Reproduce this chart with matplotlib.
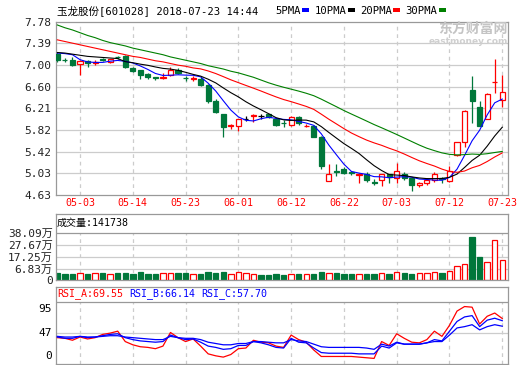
import numpy as np
import pandas as pd
import matplotlib
matplotlib.use("Agg")
import matplotlib.pyplot as plt
from matplotlib.patches import Rectangle
from matplotlib.transforms import offset_copy

plt.rcParams['font.family'] = ['DejaVu Sans Mono', 'Noto Sans CJK SC']

# *********************
# DATA
# *********************
dates = ['04-26', '04-27', '05-02', '05-03', '05-04', '05-07', '05-08', '05-09', '05-10', '05-11',
         '05-14', '05-15', '05-16', '05-17', '05-18', '05-21', '05-22', '05-23', '05-24', '05-25',
         '05-28', '05-29', '05-30', '05-31', '06-01', '06-04', '06-05', '06-06', '06-07', '06-08',
         '06-11', '06-12', '06-13', '06-14', '06-15', '06-19', '06-20', '06-21', '06-22', '06-25',
         '06-26', '06-27', '06-28', '06-29', '07-02', '07-03', '07-04', '07-05', '07-06', '07-09',
         '07-10', '07-11', '07-12', '07-13', '07-16', '07-17', '07-18', '07-19', '07-20', '07-23']
tick_dates = ['05-03', '05-14', '05-23', '06-01', '06-12', '06-22', '07-03', '07-12', '07-23']

opens = [7.20, 7.09, 7.08, 7.02, 7.06, 7.03, 7.11, 7.05, 7.14, 7.16,
         6.94, 6.90, 6.83, 6.775, 6.76, 6.81, 6.91, 6.76, 6.74, 6.73,
         6.63, 6.33, 6.10, 5.88, 5.88, 6.02, 6.06, 6.07, 6.10, 6.02,
         5.94, 5.91, 6.05, 5.88, 5.88, 5.69, 4.89, 5.06, 5.11, 5.04,
         4.99, 5.01, 4.86, 4.90, 5.01, 4.93, 5.02, 4.93, 4.81, 4.84,
         4.91, 4.93, 4.88, 5.36, 5.60, 6.53, 6.23, 6.02, 6.68, 6.36]
highs = [7.23, 7.12, 7.14, 7.08, 7.09, 7.08, 7.12, 7.11, 7.16, 7.17,
         6.95, 6.91, 6.85, 6.78, 6.84, 6.95, 6.94, 6.79, 6.79, 6.77,
         6.64, 6.37, 6.10, 5.92, 6.02, 6.07, 6.10, 6.10, 6.11, 6.03,
         5.99, 6.07, 6.06, 5.92, 5.90, 5.70, 5.19, 5.19, 5.13, 5.07,
         5.03, 5.05, 4.92, 5.02, 5.02, 5.22, 5.04, 4.94, 4.87, 4.94,
         5.04, 4.96, 5.15, 5.60, 6.17, 6.79, 6.34, 6.48, 7.10, 6.81]
lows = [7.05, 7.04, 6.97, 6.81, 6.96, 6.99, 7.07, 7.03, 7.10, 6.94,
        6.86, 6.74, 6.73, 6.72, 6.73, 6.80, 6.83, 6.70, 6.70, 6.62,
        6.31, 6.12, 5.69, 5.83, 5.80, 5.97, 5.96, 6.02, 6.03, 5.88,
        5.87, 5.88, 5.91, 5.86, 5.68, 5.11, 4.88, 4.98, 5.01, 4.99,
        4.84, 4.86, 4.81, 4.80, 4.85, 4.85, 4.90, 4.71, 4.77, 4.82,
        4.86, 4.84, 4.87, 5.34, 5.51, 5.94, 5.88, 6.01, 6.48, 6.23]
closes = [7.08, 7.08, 6.99, 7.06, 7.03, 7.04, 7.08, 7.10, 7.13, 6.95,
          6.89, 6.81, 6.78, 6.765, 6.77, 6.91, 6.85, 6.75, 6.75, 6.63,
          6.33, 6.14, 5.87, 5.90, 6.01, 6.02, 6.08, 6.07, 6.04, 5.90,
          5.93, 6.04, 5.93, 5.89, 5.69, 5.16, 5.02, 5.05, 5.03, 5.03,
          5.01, 4.90, 4.85, 5.01, 4.95, 5.07, 4.93, 4.81, 4.84, 4.91,
          5.01, 4.92, 5.07, 5.59, 6.16, 6.34, 5.88, 6.46, 6.69, 6.50]

# MA values before the window holds enough closes
ma5_head = [7.21, 7.20, 7.18, 7.09]
ma10_head = [7.22, 7.21, 7.19, 7.17, 7.15, 7.14, 7.13, 7.12, 7.11]
ma20_head = [7.45, 7.42, 7.39, 7.36, 7.33, 7.30, 7.27, 7.24, 7.21, 7.18,
             7.15, 7.13, 7.10, 7.07, 7.05, 7.02, 6.99, 6.97, 6.94]
ma30_head = [7.72, 7.67, 7.63, 7.58, 7.53, 7.49, 7.44, 7.40, 7.37, 7.34,
             7.30, 7.27, 7.24, 7.21, 7.18, 7.14, 7.11, 7.08, 7.05, 7.02,
             6.98, 6.95, 6.92, 6.88, 6.85, 6.81, 6.77, 6.72, 6.67]

# volume in 万
volume = [3.15, 2.0, 2.0, 2.6, 2.0, 2.6, 2.9, 1.7, 2.9, 2.9,
          2.0, 3.8, 2.0, 2.0, 2.6, 2.6, 2.9, 2.9, 1.7, 2.0,
          3.8, 2.9, 3.8, 1.7, 3.5, 2.6, 1.7, 1.1, 1.1, 2.0,
          1.1, 1.7, 2.0, 1.7, 2.0, 3.8, 3.2, 2.9, 2.0, 2.0,
          1.7, 2.0, 2.0, 2.6, 2.0, 3.5, 2.9, 2.0, 2.6, 2.6,
          3.5, 2.9, 4.7, 8.8, 10.6, 35.1, 17.1, 12.4, 32.2, 14.1738]
vol_ticks = [6.83, 17.25, 27.67, 38.09]

rsi_a = [40, 39, 36, 41, 38, 40, 45, 47, 50, 34,
         29, 26, 25, 23, 27, 48, 40, 34, 38, 27,
         15, 12, 10, 14, 23, 24, 36, 33, 32, 27,
         25, 44, 37, 33, 21, 11, 11, 11, 11, 11,
         10, 9, 8, 34, 28, 46, 39, 33, 32, 37,
         50, 42, 59, 81, 88, 87, 61, 73, 78, 69.55]
rsi_b = [41, 39, 39, 42, 40, 41, 43, 45, 46, 40,
         37, 35, 34, 33, 34, 44, 40, 37, 38, 33,
         27, 25, 22, 23, 28, 28, 34, 32, 29, 25,
         24, 39, 33, 32, 24, 17, 16, 16, 16, 16,
         15, 15, 15, 27, 24, 32, 30, 30, 30, 32,
         37, 35, 50, 65, 72, 74, 57, 67, 70, 66.14]
rsi_c = [42, 41, 41, 42, 41, 41, 42, 43, 43, 41,
         40, 39, 38, 37, 37, 42, 40, 39, 39, 37,
         33, 31, 29, 29, 31, 31, 34, 34, 33, 32,
         32, 37, 35, 34, 30, 26, 25, 25, 25, 25,
         25, 24, 22, 30, 27, 33, 30, 30, 30, 32,
         34, 34, 44, 55, 57, 60, 52, 57, 60, 57.70]

price_ticks = [4.63, 5.03, 5.42, 5.82, 6.21, 6.60, 7.00, 7.39, 7.78]
rsi_ticks = [0, 47, 95]

# *********************
# STYLE
# *********************
W, H = 520, 365
RED = '#ff0000'
GREEN = '#00773a'
FRAME = '#999999'
GRID = '#cccccc'
FS = 7.2
BW = 0.68


def px_axes(fig, l, t, r, b):
    return fig.add_axes([l / W, 1 - b / H, (r - l) / W, (b - t) / H])


def moving_avg(n, head):
    s = pd.Series(closes).rolling(n).mean().to_numpy()
    s[:n - 1] = head
    return s


def style_frame(ax):
    for sp in ax.spines.values():
        sp.set_color(FRAME)
        sp.set_linewidth(0.9)
    ax.tick_params(axis='both', length=0, labelsize=FS, colors='#222222')
    ax.set_facecolor('white')


fig = plt.figure(figsize=(W / 100, H / 100), dpi=100)
fig.patch.set_facecolor('white')

x = np.arange(len(closes))
tick_pos = [dates.index(d) for d in tick_dates]
xlim = (-0.25, 59.8)

# *********************
# PRICE PANEL
# *********************
ax1 = px_axes(fig, 55.5, 21.7, 508.3, 195)
style_frame(ax1)
ax1.set_xlim(*xlim)
ax1.set_ylim(price_ticks[0], price_ticks[-1])
ax1.set_yticks(price_ticks)
ax1.set_yticklabels([f'{v:.2f}' for v in price_ticks], fontsize=8)
ax1.tick_params(axis='y', pad=3)
ax1.set_xticks(tick_pos)
ax1.set_xticklabels(tick_dates, color=RED, fontsize=FS)
ax1.tick_params(axis='x', pad=2)
for v in price_ticks[1:-1]:
    ax1.axhline(v, color=GRID, lw=0.9, zorder=0)
for p in tick_pos:
    ax1.axvline(p, color=GRID, lw=0.9, ls=(0, (3, 3)), zorder=0)

for i in x:
    o, h, l, c = opens[i], highs[i], lows[i], closes[i]
    col = RED if c > o else (GREEN if c < o else 'black')
    ax1.vlines(i, l, h, color=col, lw=0.9, zorder=2)
    if c == o:
        ax1.hlines(c, i - BW / 2, i + BW / 2, color=col, lw=0.9, zorder=3)
    else:
        ax1.add_patch(Rectangle((i - BW / 2, min(o, c)), BW, abs(c - o),
                                facecolor='white' if c > o else col,
                                edgecolor=col, lw=0.9, zorder=3))

ma_specs = [(5, ma5_head, '#0000ff'), (10, ma10_head, 'black'),
            (20, ma20_head, RED), (30, ma30_head, '#008000')]
for n, head, col in ma_specs:
    ax1.plot(x, moving_avg(n, head), color=col, lw=0.8, zorder=4)

# title + legend
fig.text(57 / W, 1 - 10.5 / H, '玉龙股份[601028] 2018-07-23 14:44', fontsize=7.6,
         ha='left', va='center')
lx = 275
for n, _, col in ma_specs:
    label = f'{n}PMA'
    fig.text(lx / W, 1 - 10.5 / H, label, fontsize=7.6, ha='left', va='center')
    sx = lx + len(label) * 6.1 + 3
    fig.add_artist(Rectangle((sx / W, 1 - 12 / H), 7 / W, 3.5 / H,
                             facecolor=col, edgecolor='none', transform=fig.transFigure))
    lx = sx + 12

# watermark
fig.text(508 / W, 1 - 29 / H, '东方财富网', fontsize=10, color='#c4c4c4', weight='bold',
         ha='right', va='center', family=['Noto Sans CJK SC'])
fig.text(508 / W, 1 - 41 / H, 'eastmoney.com', fontsize=6.5, color='#cfcfcf', weight='bold',
         ha='right', va='center', family=['DejaVu Sans'])

# *********************
# VOLUME PANEL
# *********************
vol_floor = vol_ticks[0] - (vol_ticks[1] - vol_ticks[0])
vol_top = vol_ticks[-1] + (vol_ticks[-1] - vol_floor) * (233.3 - 214) / (280.3 - 233.3)
ax2 = px_axes(fig, 55.5, 214, 508.3, 280.3)
style_frame(ax2)
ax2.set_xlim(*xlim)
ax2.set_ylim(vol_floor, vol_top)
ax2.set_xticks([])
ax2.set_yticks([vol_floor] + vol_ticks)
ax2.set_yticklabels(['0'] + [f'{v:.2f}万' for v in vol_ticks], fontsize=8)
ax2.tick_params(axis='y', pad=2)
for v in vol_ticks[:-1]:
    ax2.axhline(v, color=GRID, lw=0.9, zorder=0)
ax2.axhline(vol_ticks[-1], color=FRAME, lw=0.9, zorder=1)
for p in tick_pos:
    ax2.vlines(p, vol_floor, vol_ticks[-1], color=GRID, lw=0.9, ls=(0, (3, 3)), zorder=0)
for i in x:
    o, c = opens[i], closes[i]
    up = c > o if c != o else c >= closes[i - 1]
    col = RED if up else GREEN
    ax2.add_patch(Rectangle((i - 0.36, vol_floor), 0.72, volume[i] - vol_floor,
                            facecolor='white' if up else col, edgecolor=col, lw=0.9, zorder=2))
ax2.text(57 / W, 1 - 223 / H, f'成交量:{int(round(volume[-1] * 10000))}', fontsize=FS,
         transform=fig.transFigure, ha='left', va='center')

# *********************
# RSI PANEL
# *********************
rsi_top = rsi_ticks[-1] + rsi_ticks[-1] * (302 - 286.7) / (363.6 - 302)
ax3 = px_axes(fig, 55.5, 286.7, 508.3, 363.6)
style_frame(ax3)
ax3.set_xlim(*xlim)
ax3.set_ylim(0, rsi_top)
ax3.set_xticks([])
ax3.set_yticks([])
ax3.axhline(rsi_ticks[1], color=GRID, lw=0.9, zorder=0)
ax3.axhline(rsi_ticks[2], color=FRAME, lw=0.9, zorder=1)
for p in tick_pos:
    ax3.vlines(p, 0, rsi_ticks[2], color=GRID, lw=0.9, ls=(0, (3, 3)), zorder=0)
ax3.plot(x, rsi_a, color=RED, lw=0.9, zorder=3)
ax3.plot(x, rsi_b, color='#0000ff', lw=0.9, zorder=3)
ax3.plot(x, rsi_c, color='#0000ff', lw=0.9, zorder=3)
ytr = ax3.get_yaxis_transform()
ax3.text(-0.008, rsi_ticks[2], str(rsi_ticks[2]), ha='right', va='top', fontsize=8,
         transform=offset_copy(ytr, fig=fig, y=-2, units='dots'))
ax3.text(-0.008, rsi_ticks[1], str(rsi_ticks[1]), transform=ytr, ha='right', va='center', fontsize=8)
ax3.text(-0.008, rsi_ticks[0], str(rsi_ticks[0]), ha='right', va='bottom', fontsize=8,
         transform=offset_copy(ytr, fig=fig, y=3, units='dots'))
hx = 57
for name, vals, col in [('RSI_A', rsi_a, RED), ('RSI_B', rsi_b, '#0000ff'), ('RSI_C', rsi_c, '#0000ff')]:
    s = f'{name}:{vals[-1]:.2f}'
    fig.text(hx / W, 1 - 294 / H, s, fontsize=FS, color=col, ha='left', va='center')
    hx += (len(s) + 1) * 6.02

fig.savefig('out.png', dpi=100, facecolor='white')
